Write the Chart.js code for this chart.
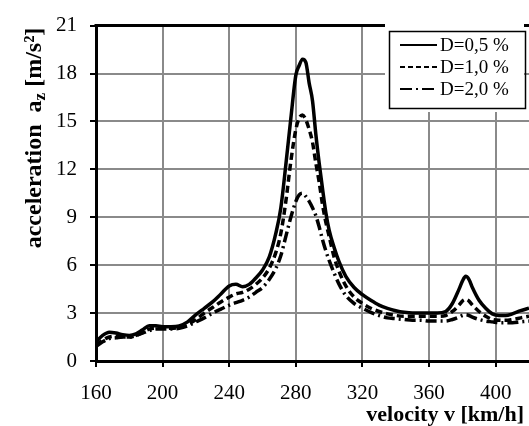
<!DOCTYPE html>
<html><head><meta charset="utf-8">
<script src="https://cdn.jsdelivr.net/npm/chart.js@4/dist/chart.umd.min.js"></script>
<style>html,body{margin:0;padding:0;background:#fff;overflow:hidden}</style>
</head><body>
<canvas id="c" width="529" height="426"></canvas>
<script>
// ---- data ----
const velocity = [160,164,168,172,176,180,184,188,192,196,200,205,210,215,220,225,230,235,240,244,248,252,256,260,264,268,271,274,277,280,282,284,286,288,290,292,294,296,298,300,303,306,310,315,320,325,330,335,340,345,350,355,360,365,370,374,378,380,382,384,386,390,394,398,402,406,410,415,420];
const accD05 = [1.2,1.6,1.8,1.75,1.65,1.6,1.7,1.95,2.2,2.2,2.15,2.15,2.2,2.45,2.9,3.3,3.7,4.2,4.7,4.8,4.65,4.8,5.2,5.7,6.5,8.0,9.6,12.3,15.2,17.9,18.5,18.9,18.7,17.4,16.3,14.2,12.4,10.8,9.3,8.2,7.1,6.2,5.3,4.6,4.15,3.8,3.5,3.3,3.15,3.05,3.0,3.0,3.0,3.0,3.1,3.6,4.5,5.0,5.3,5.1,4.6,3.8,3.3,2.95,2.85,2.85,2.95,3.15,3.3];
const accD10 = [1.0,1.3,1.5,1.55,1.5,1.5,1.6,1.8,2.0,2.05,2.05,2.05,2.1,2.3,2.6,3.0,3.35,3.7,4.0,4.2,4.3,4.5,4.8,5.2,5.8,6.8,8.0,10.0,12.5,14.5,15.2,15.4,15.1,14.5,13.7,12.4,11.2,9.8,8.7,7.8,6.5,5.6,4.7,4.0,3.6,3.3,3.1,2.95,2.85,2.8,2.8,2.8,2.8,2.8,2.85,3.1,3.5,3.75,3.85,3.75,3.5,3.1,2.8,2.6,2.55,2.55,2.6,2.7,2.8];
const accD20 = [0.9,1.2,1.4,1.45,1.5,1.5,1.6,1.75,1.9,2.0,2.0,2.0,2.05,2.2,2.45,2.7,3.0,3.25,3.5,3.65,3.8,4.0,4.3,4.6,5.1,5.8,6.6,7.8,9.0,10.0,10.4,10.5,10.3,10.0,9.6,9.1,8.4,7.6,6.9,6.3,5.5,4.8,4.1,3.6,3.3,3.05,2.85,2.7,2.65,2.6,2.55,2.55,2.5,2.5,2.5,2.6,2.75,2.85,2.9,2.85,2.75,2.6,2.5,2.45,2.4,2.4,2.4,2.45,2.5];
const seriesLabels = ['D=0,5 %','D=1,0 %','D=2,0 %'];
const seriesDash = [[], [7,4], [11,4,2,4]];
const xTickValues = [160,200,240,280,320,360,400];
const xTitle = 'velocity v [km/h]';
const yTitleParts = ['acceleration  a', 'z', ' [m/s²]'];

const SERIF = '"Liberation Serif","Times New Roman",serif';
const toPts = arr => velocity.map((v,i)=>({x:v, y:arr[i]}));
const seriesData = [accD05, accD10, accD20];

const decor = {
  id:'decor',
  afterDraw(chart){
    const ctx = chart.ctx, a = chart.chartArea;
    ctx.save();
    // top frame line
    ctx.strokeStyle='#000'; ctx.lineWidth=3;
    ctx.beginPath(); ctx.moveTo(a.left-1.5, a.top); ctx.lineTo(a.right, a.top); ctx.stroke();
    // legend
    ctx.fillStyle='#fff'; ctx.fillRect(385, 19, 139, 93);
    ctx.lineWidth=1.5; ctx.strokeStyle='#000';
    ctx.strokeRect(389.5, 31.5, 136, 77);
    ctx.font = '19px '+SERIF; ctx.fillStyle='#000'; ctx.textBaseline='middle'; ctx.textAlign='left';
    const rows=[45,67,89];
    seriesLabels.forEach((lab,i)=>{
      ctx.lineWidth=2; ctx.setLineDash(i===1?[5,3]:(i===2?[12,4,2,4]:[]));
      ctx.beginPath(); ctx.moveTo(400, rows[i]); ctx.lineTo(437, rows[i]); ctx.stroke();
      ctx.setLineDash([]);
      ctx.fillText(lab, 440, rows[i]+1);
    });
    // x title, fitted to span ~365..523
    ctx.font = 'bold 20px '+SERIF; ctx.textBaseline='alphabetic';
    let wx = ctx.measureText(xTitle).width;
    const fx = Math.round(20*158/wx);
    ctx.font = 'bold '+fx+'px '+SERIF; ctx.textAlign='right';
    ctx.fillText(xTitle, 524, 421);
    // y title (rotated, with subscript), fitted to span ~28..248
    ctx.translate(41, 138); ctx.rotate(-Math.PI/2);
    let fm=18, fs=13;
    const measure = ()=>{
      ctx.font='bold '+fm+'px '+SERIF; const w0=ctx.measureText(yTitleParts[0]).width, w2=ctx.measureText(yTitleParts[2]).width;
      ctx.font='bold '+fs+'px '+SERIF; const w1=ctx.measureText(yTitleParts[1]).width;
      return [w0,w1,w2];
    };
    let ws = measure();
    const k = 220/(ws[0]+ws[1]+ws[2]);
    fm = Math.round(fm*k); fs = Math.round(fs*k);
    ws = measure();
    let x=-(ws[0]+ws[1]+ws[2])/2;
    ctx.textAlign='left';
    ctx.font='bold '+fm+'px '+SERIF; ctx.fillText(yTitleParts[0], x, 0); x+=ws[0];
    ctx.font='bold '+fs+'px '+SERIF; ctx.fillText(yTitleParts[1], x, 4); x+=ws[1];
    ctx.font='bold '+fm+'px '+SERIF; ctx.fillText(yTitleParts[2], x, 0);
    ctx.restore();
  }
};

new Chart(document.getElementById('c'), {
  type:'line',
  data:{ datasets: seriesLabels.map((lab,i)=>({
    label:lab, data:toPts(seriesData[i]), borderColor:'#000', borderWidth:3.5,
    borderDash:seriesDash[i], pointRadius:0, cubicInterpolationMode:'monotone', fill:false
  }))},
  options:{
    responsive:false, devicePixelRatio:1, animation:false,
    layout:{padding:{top:24,right:0,left:0,bottom:0}},
    plugins:{legend:{display:false}, tooltip:{enabled:false}},
    scales:{
      x:{ type:'linear', min:160, max:420,
        afterBuildTicks: s => { s.ticks = xTickValues.map(v=>({value:v})); },
        afterFit: s => { s.height = 65; },
        ticks:{ font:{family:SERIF, size:21}, color:'#000', padding:14, maxRotation:0 },
        grid:{ color:'#8a8a8a', lineWidth:2, tickColor:'#000', tickLength:6, tickWidth:2 },
        border:{ color:'#000', width:3 }
      },
      y:{ min:0, max:21,
        afterFit: s => { s.width = 96; },
        ticks:{ stepSize:3, font:{family:SERIF, size:21}, color:'#000', padding:13 },
        grid:{ color:'#8a8a8a', lineWidth:2, tickColor:'#000', tickLength:6, tickWidth:2 },
        border:{ color:'#000', width:3 }
      }
    }
  },
  plugins:[decor]
});
</script>
</body></html>
